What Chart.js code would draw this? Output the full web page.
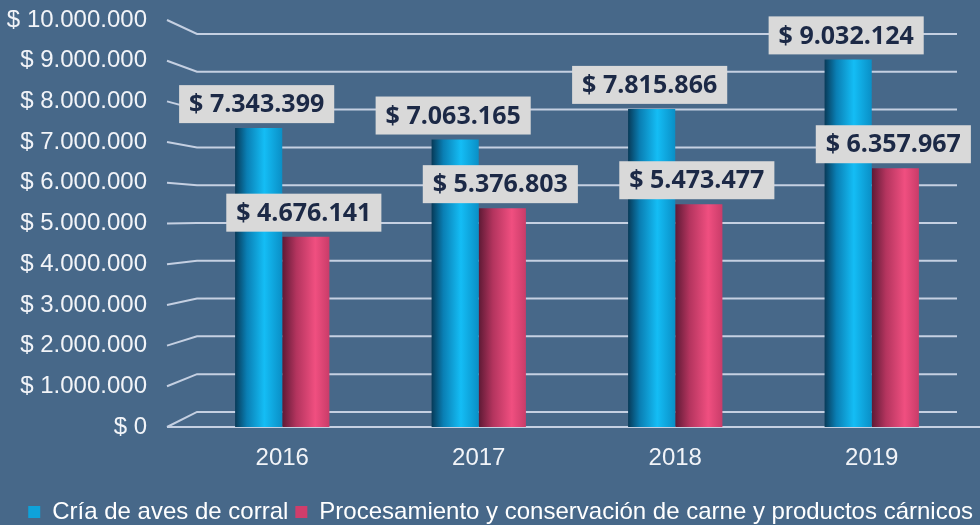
<!DOCTYPE html>
<html>
<head>
<meta charset="utf-8">
<script src="https://cdn.jsdelivr.net/npm/chart.js@4"></script>
<style>
  html, body { margin: 0; padding: 0; background: #476889; }
  #wrap { width: 980px; height: 525px; position: relative; }
</style>
</head>
<body>
<div id="wrap"><canvas id="chart"></canvas></div>
<script>
// Data
const years = ['2016', '2017', '2018', '2019'];
const criaAves = [7343399, 7063165, 7815866, 9032124];
const procesamientoCarne = [4676141, 5376803, 5473477, 6357967];
const seriesNames = ['Cría de aves de corral', 'Procesamiento y conservación de carne y productos cárnicos'];
const solidColors = ['#0ea2da', '#d03d6b'];

const fmt = v => String(v).replace(/\B(?=(\d{3})+(?!\d))/g, '.');

// cylinder-ish shading per bar
function shade(stops, solid) {
    return (ctx) => {
        const chart = ctx.chart;
        const xs = chart.scales.x;
        if (ctx.type !== 'data' || !xs) return solid;
        const cx = xs.getPixelForValue(ctx.dataIndex);
        const w = xs.width / years.length * 0.48 / 2;
        if (!isFinite(cx) || !isFinite(w) || w <= 0) return solid;
        const x0 = ctx.datasetIndex === 0 ? cx - w : cx;
        const g = chart.ctx.createLinearGradient(x0, 0, x0 + w, 0);
        stops.forEach(s => g.addColorStop(s[0], s[1]));
        return g;
    };
}

// back wall + perspective gridlines
const gridPlugin = {
    id: 'grid3d',
    beforeDatasetsDraw(chart) {
        const { ctx, chartArea: a, scales: { y } } = chart;
        ctx.save();
        ctx.strokeStyle = '#c5d0e2';
        ctx.lineWidth = 2;
        y.ticks.forEach(t => {
            const yF = y.getPixelForValue(t.value);
            const yB = a.top + 14 + (yF - a.top) * 0.9286;
            ctx.beginPath();
            ctx.moveTo(a.left - 17, yF);
            ctx.lineTo(a.left + 13, yB);
            ctx.lineTo(a.right - 13, yB);
            ctx.stroke();
        });
        const y0 = y.getPixelForValue(0);
        ctx.beginPath();
        ctx.moveTo(a.left - 17, y0);
        ctx.lineTo(chart.width, y0);
        ctx.stroke();
        ctx.restore();
    }
};

// value boxes above bars
const labelPlugin = {
    id: 'valueBoxes',
    afterDatasetsDraw(chart) {
        const ctx = chart.ctx;
        ctx.save();
        ctx.font = '700 25px "Open Sans"';
        ctx.textAlign = 'center';
        ctx.textBaseline = 'middle';
        chart.data.datasets.forEach((ds, di) => {
            chart.getDatasetMeta(di).data.forEach((el, i) => {
                const txt = '$ ' + fmt(ds.data[i]);
                const w = ctx.measureText(txt).width + 20;
                const h = 38;
                const cx = el.x - 2;
                const bottom = el.y - 5;
                ctx.fillStyle = '#d9d9d9';
                ctx.fillRect(cx - w / 2, bottom - h, w, h);
                ctx.fillStyle = '#1c2946';
                ctx.fillText(txt, cx, bottom - h / 2 + 1);
            });
        });
        ctx.restore();
    }
};

const axisFont = { family: '"Liberation Sans", Arial', size: 24 };

new Chart(document.getElementById('chart'), {
    type: 'bar',
    data: {
        labels: years,
        datasets: [
            {
                label: seriesNames[0],
                data: criaAves,
                backgroundColor: shade([[0, '#073a58'], [0.25, '#0a7fb4'], [0.62, '#14bdf5'], [1, '#0a8fc6']], solidColors[0])
            },
            {
                label: seriesNames[1],
                data: procesamientoCarne,
                backgroundColor: shade([[0, '#5e1a35'], [0.3, '#b3345e'], [0.7, '#f04f80'], [1, '#c93c69']], solidColors[1])
            }
        ]
    },
    options: {
        responsive: true,
        maintainAspectRatio: false,
        animation: false,
        layout: { padding: { top: 20, left: 0, right: 0, bottom: -9 } },
        datasets: { bar: { categoryPercentage: 0.48, barPercentage: 1.0 } },
        scales: {
            y: {
                min: 0,
                max: 10000000,
                afterFit: s => { s.width = 184; s.paddingTop = 0; s.paddingBottom = 0; },
                ticks: {
                    stepSize: 1000000,
                    padding: 37,
                    color: '#f2f4f8',
                    font: axisFont,
                    callback: v => '$ ' + fmt(v)
                },
                grid: { display: false, drawTicks: false },
                border: { display: false }
            },
            x: {
                afterFit: s => { s.height = 66; s.paddingLeft = 0; s.paddingRight = 10; },
                ticks: {
                    padding: 17,
                    color: '#f2f4f8',
                    font: axisFont
                },
                grid: { display: false, drawTicks: false },
                border: { display: false }
            }
        },
        plugins: {
            legend: {
                position: 'bottom',
                align: 'end',
                labels: {
                    color: '#ffffff',
                    boxWidth: 12,
                    boxHeight: 12,
                    padding: 7,
                    font: axisFont,
                    generateLabels: chart => Chart.defaults.plugins.legend.labels.generateLabels(chart)
                        .map((l, i) => Object.assign(l, { fillStyle: solidColors[i], strokeStyle: solidColors[i], lineWidth: 0 }))
                }
            },
            tooltip: { enabled: false }
        }
    },
    plugins: [gridPlugin, labelPlugin]
});
</script>
</body>
</html>
